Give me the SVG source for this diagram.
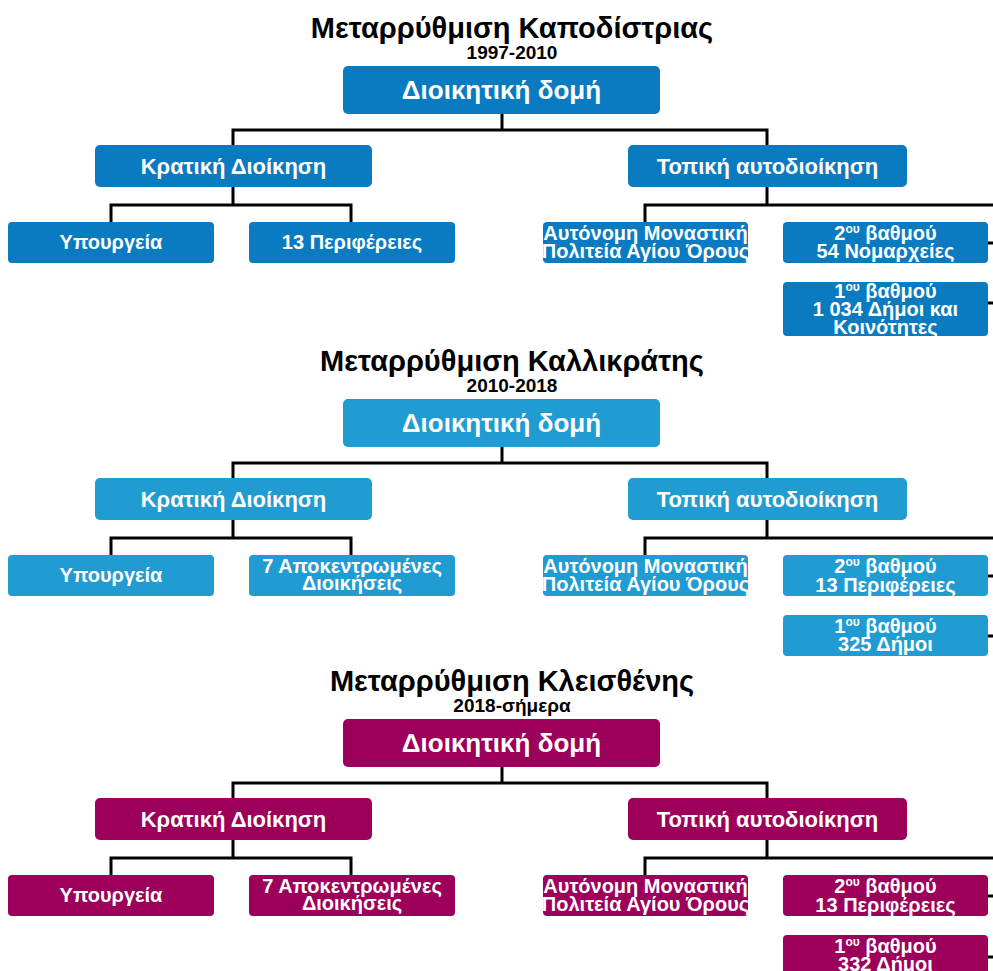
<svg xmlns="http://www.w3.org/2000/svg" width="993" height="971" viewBox="0 0 993 971">
<style>
text{font-family:"Liberation Sans",Arial,sans-serif;font-weight:bold;text-anchor:middle}
.title{font-size:29px;fill:#000}
.sub{font-size:19px;fill:#000}
.big{font-size:26px;fill:#fff}
.mid{font-size:22px;fill:#fff}
.sm{font-size:20px;fill:#fff}
.sup{font-size:12px}
.conn path{fill:none;stroke:#000;stroke-width:3}
.s1 rect{fill:#0A7BC1}
.s2 rect{fill:#209CD2}
.s3 rect{fill:#9C005A}
</style>
<rect width="993" height="971" fill="#fff"/>

<!-- Section 1 -->
<g class="s1">
  <text class="title" x="512" y="38">Μεταρρύθμιση Καποδίστριας</text>
  <text class="sub" x="512" y="59">1997-2010</text>
  <g class="conn" id="s1-connectors">
    <path d="M502,114 V130 M233,145 V130 H767 V145"/>
    <path d="M233,187 V205 M111,222 V205 H351 V222"/>
    <path d="M767,187 V205 M645,222 V205 H1000 V303 M988,243 H1000 M988,303 H1000"/>
  </g>
  <g id="s1-root"><rect x="343" y="66" width="317" height="48" rx="5"/><text class="big" x="501.5" y="99">Διοικητική δομή</text></g>
  <g id="s1-state"><rect x="95" y="145" width="277" height="42" rx="5"/><text class="mid" x="233.5" y="174">Κρατική Διοίκηση</text></g>
  <g id="s1-local"><rect x="628" y="145" width="279" height="42" rx="5"/><text class="mid" x="767.5" y="174">Τοπική αυτοδιοίκηση</text></g>
  <g id="s1-ministries"><rect x="8" y="222" width="206" height="41" rx="4"/><text class="sm" x="111" y="249">Υπουργεία</text></g>
  <g id="s1-regions"><rect x="249" y="222" width="206" height="41" rx="4"/><text class="sm" x="352" y="249">13 Περιφέρειες</text></g>
  <g id="s1-athos"><rect x="543" y="222" width="205" height="41" rx="4"/><text class="sm" x="645.5" y="240">Αυτόνομη Μοναστική</text><text class="sm" x="645.5" y="258">Πολιτεία Αγίου Όρους</text></g>
  <g id="s1-grade2"><rect x="783" y="222" width="205" height="41" rx="4"/><text class="sm" x="885.5" y="240">2<tspan class="sup" dy="-7">ου</tspan><tspan dy="7"> βαθμού</tspan></text><text class="sm" x="885.5" y="258">54 Νομαρχείες</text></g>
  <g id="s1-grade1"><rect x="783" y="282" width="205" height="54" rx="4"/><text class="sm" x="885.5" y="298">1<tspan class="sup" dy="-7">ου</tspan><tspan dy="7"> βαθμού</tspan></text><text class="sm" x="885.5" y="316">1 034 Δήμοι και</text><text class="sm" x="885.5" y="334">Κοινότητες</text></g>
</g>

<!-- Section 2 -->
<g class="s2" transform="translate(0,333)">
  <text class="title" x="512" y="38">Μεταρρύθμιση Καλλικράτης</text>
  <text class="sub" x="512" y="59">2010-2018</text>
  <g class="conn" id="s2-connectors">
    <path d="M502,114 V130 M233,145 V130 H767 V145"/>
    <path d="M233,187 V205 M111,222 V205 H351 V222"/>
    <path d="M767,187 V205 M645,222 V205 H1000 V303 M988,243 H1000 M988,303 H1000"/>
  </g>
  <g id="s2-root"><rect x="343" y="66" width="317" height="48" rx="5"/><text class="big" x="501.5" y="99">Διοικητική δομή</text></g>
  <g id="s2-state"><rect x="95" y="145" width="277" height="42" rx="5"/><text class="mid" x="233.5" y="174">Κρατική Διοίκηση</text></g>
  <g id="s2-local"><rect x="628" y="145" width="279" height="42" rx="5"/><text class="mid" x="767.5" y="174">Τοπική αυτοδιοίκηση</text></g>
  <g id="s2-ministries"><rect x="8" y="222" width="206" height="41" rx="4"/><text class="sm" x="111" y="249">Υπουργεία</text></g>
  <g id="s2-decentral"><rect x="249" y="222" width="206" height="41" rx="4"/><text class="sm" x="352" y="240">7 Αποκεντρωμένες</text><text class="sm" x="352" y="257">Διοικήσεις</text></g>
  <g id="s2-athos"><rect x="543" y="222" width="205" height="41" rx="4"/><text class="sm" x="645.5" y="240">Αυτόνομη Μοναστική</text><text class="sm" x="645.5" y="258">Πολιτεία Αγίου Όρους</text></g>
  <g id="s2-grade2"><rect x="783" y="222" width="205" height="41" rx="4"/><text class="sm" x="885.5" y="240">2<tspan class="sup" dy="-7">ου</tspan><tspan dy="7"> βαθμού</tspan></text><text class="sm" x="885.5" y="259">13 Περιφέρειες</text></g>
  <g id="s2-grade1"><rect x="783" y="282" width="205" height="41" rx="4"/><text class="sm" x="885.5" y="300">1<tspan class="sup" dy="-7">ου</tspan><tspan dy="7"> βαθμού</tspan></text><text class="sm" x="885.5" y="318">325 Δήμοι</text></g>
</g>

<!-- Section 3 -->
<g class="s3" transform="translate(0,653)">
  <text class="title" x="512" y="38">Μεταρρύθμιση Κλεισθένης</text>
  <text class="sub" x="512" y="59">2018-σήμερα</text>
  <g class="conn" id="s3-connectors">
    <path d="M502,114 V130 M233,145 V130 H767 V145"/>
    <path d="M233,187 V205 M111,222 V205 H351 V222"/>
    <path d="M767,187 V205 M645,222 V205 H1000 V320 M988,243 H1000 M988,304 H1000"/>
  </g>
  <g id="s3-root"><rect x="343" y="66" width="317" height="48" rx="5"/><text class="big" x="501.5" y="99">Διοικητική δομή</text></g>
  <g id="s3-state"><rect x="95" y="145" width="277" height="42" rx="5"/><text class="mid" x="233.5" y="174">Κρατική Διοίκηση</text></g>
  <g id="s3-local"><rect x="628" y="145" width="279" height="42" rx="5"/><text class="mid" x="767.5" y="174">Τοπική αυτοδιοίκηση</text></g>
  <g id="s3-ministries"><rect x="8" y="222" width="206" height="41" rx="4"/><text class="sm" x="111" y="249">Υπουργεία</text></g>
  <g id="s3-decentral"><rect x="249" y="222" width="206" height="41" rx="4"/><text class="sm" x="352" y="240">7 Αποκεντρωμένες</text><text class="sm" x="352" y="257">Διοικήσεις</text></g>
  <g id="s3-athos"><rect x="543" y="222" width="205" height="41" rx="4"/><text class="sm" x="645.5" y="240">Αυτόνομη Μοναστική</text><text class="sm" x="645.5" y="258">Πολιτεία Αγίου Όρους</text></g>
  <g id="s3-grade2"><rect x="783" y="222" width="205" height="41" rx="4"/><text class="sm" x="885.5" y="240">2<tspan class="sup" dy="-7">ου</tspan><tspan dy="7"> βαθμού</tspan></text><text class="sm" x="885.5" y="259">13 Περιφέρειες</text></g>
  <g id="s3-grade1"><rect x="783" y="282" width="205" height="41" rx="4"/><text class="sm" x="885.5" y="300">1<tspan class="sup" dy="-7">ου</tspan><tspan dy="7"> βαθμού</tspan></text><text class="sm" x="885.5" y="318">332 Δήμοι</text></g>
</g>
</svg>
